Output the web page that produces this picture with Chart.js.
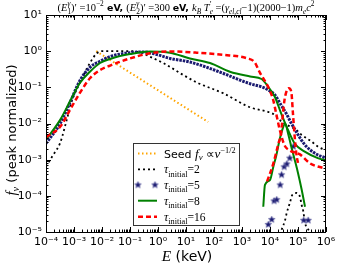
<!DOCTYPE html>
<html>
<head>
<meta charset="utf-8">
<script src="https://cdn.jsdelivr.net/npm/chart.js"></script>
<style>
  html, body { margin: 0; padding: 0; background: #fff; }
</style>
</head>
<body>
<canvas id="myChart" width="340" height="267"></canvas>
<script>
// values (E in keV, f_nu peak normalized)
const xTicks = [1e-4, 1e-3, 1e-2, 1e-1, 1, 10, 100, 1e3, 1e4, 1e5, 1e6];
const yTicks = [1e-5, 1e-4, 1e-3, 1e-2, 1e-1, 1, 10];

const seedE = [6.2e-3, 62];
const seedF = [1.0, 0.011];

const tau2E = [1e-4, 1.8e-4, 3.2e-4, 5.5e-4, 8.3e-4, 1.6e-3, 3.7e-3, 6.5e-3, 1e-2, 3.2e-2, 0.1, 0.25, 0.5, 1.55, 7.9, 25, 210, 1950, 8500, 1.48e4, 2.6e4, 8.7e4, 1.32e5, 3.0e5, 5.1e5, 1e6];
const tau2F = [6.5e-4, 1.35e-3, 2.9e-3, 1.26e-2, 4.1e-2, 0.13, 0.47, 0.87, 1.0, 1.0, 1.0, 0.91, 0.71, 0.47, 0.22, 0.135, 0.069, 0.028, 0.021, 0.0174, 0.0112, 0.0066, 0.0049, 0.0032, 0.0023, 0.0018];
const tau2HiE = [2.6e4, 3.5e4, 4.0e4, 5.1e4, 6.3e4, 8.9e4, 1.17e5, 1.35e5, 1.55e5, 1.78e5, 2.5e5, 3.1e5];
const tau2HiF = [1.15e-5, 2.2e-5, 3.5e-5, 6.3e-5, 1.07e-4, 1.2e-4, 9.5e-5, 5.6e-5, 3.7e-5, 1.8e-5, 1.1e-5, 1.0e-5];

const tau5E = [1e-4, 3.2e-4, 7.2e-4, 1.6e-3, 3.7e-3, 8.5e-3, 1.95e-2, 4.4e-2, 0.1, 0.32, 1, 2.7, 13.8, 210, 850, 1950, 5600, 8500, 1.48e4, 2.5e4, 3.8e4, 5.75e4, 1e5, 1.74e5, 4e5, 1e6];
const tau5F = [2.8e-3, 1e-2, 3.8e-2, 0.15, 0.355, 0.525, 0.71, 0.83, 0.91, 0.955, 0.79, 0.63, 0.5, 0.245, 0.158, 0.126, 0.1, 0.085, 0.062, 0.032, 0.019, 0.0102, 0.0049, 0.0026, 0.0015, 0.0011];
const tau5HiE = [8.7e3, 1.15e4, 1.4e4, 1.74e4, 2.3e4, 2.6e4, 3.2e4, 4.0e4, 5.1e4, 6.8e4, 1.6e5, 2.3e5];
const tau5HiF = [1.6e-5, 2.2e-5, 7.2e-5, 7.8e-5, 2.0e-4, 3.8e-4, 6.3e-4, 7.6e-4, 1.1e-3, 2.3e-3, 2.1e-5, 2.1e-5];

const tau8E = [1e-4, 3.2e-4, 7.2e-4, 1.6e-3, 3.7e-3, 8.5e-3, 2.2e-2, 0.1, 0.51, 2.7, 13.8, 72, 370, 1950, 5000, 8500, 1.48e4, 2.5e4, 4.4e4, 7.6e4, 1.74e5, 5.1e5, 1e6];
const tau8F = [3.55e-3, 1.26e-2, 4.1e-2, 0.13, 0.27, 0.47, 0.63, 0.83, 0.98, 0.91, 0.63, 0.47, 0.27, 0.2, 0.17, 0.105, 0.055, 0.019, 0.0066, 0.0028, 0.00166, 0.0011, 9.5e-4];
const tau8HiE = [5750, 6600, 1e4, 1.32e4, 1.66e4, 2.2e4, 2.9e4, 3.5e4, 4.4e4, 5.75e4, 7.6e4, 1e5, 1.35e5, 1.78e5];
const tau8HiF = [5e-5, 2e-4, 2.75e-4, 6.5e-4, 1.26e-3, 3.55e-3, 7.6e-3, 1e-2, 5.4e-3, 2.3e-3, 1e-3, 4.3e-4, 1.5e-4, 5e-5];

const tau16E = [1e-4, 3.2e-4, 7.2e-4, 1.6e-3, 3.7e-3, 8.5e-3, 1.95e-2, 0.1, 0.51, 2.7, 24, 210, 1580, 2800, 4400, 6300, 8500, 1.3e4, 1.66e4, 2.24e4, 3.3e4, 5.0e4, 1.17e5, 2.7e5, 1e6];
const tau16F = [4.2e-3, 8.1e-3, 2.4e-2, 6.9e-2, 0.178, 0.30, 0.40, 0.63, 0.87, 0.98, 0.91, 0.79, 0.63, 0.5, 0.25, 0.158, 0.105, 0.045, 0.019, 0.0066, 0.0025, 0.0018, 0.0014, 7.9e-4, 5.6e-4];
const tau16HiE = [7.9e3, 1.32e4, 2.0e4, 2.5e4, 2.9e4, 3.3e4, 4.0e4, 4.7e4, 5.75e4, 6.6e4, 7.6e4, 8.7e4, 1e5];
const tau16HiF = [2.5e-4, 7.9e-4, 2.8e-3, 5.4e-3, 1.9e-2, 4.5e-2, 8.3e-2, 9.5e-2, 7.6e-2, 1.9e-2, 4.4e-3, 1.5e-3, 7.9e-4];

const pts = (E, F) => E.map((e, i) => ({ x: e, y: F[i] }));

// filled 5-point star like matplotlib '*'
function makeStar(r) {
  const c = document.createElement('canvas');
  c.width = c.height = 2 * r + 2;
  const g = c.getContext('2d');
  g.beginPath();
  for (let i = 0; i < 10; i++) {
    const rad = i % 2 ? r * 0.45 : r;
    const a = -Math.PI / 2 + i * Math.PI / 5;
    g.lineTo(r + 1 + rad * Math.cos(a), r + 1 + rad * Math.sin(a));
  }
  g.closePath();
  g.fillStyle = '#1a1a70';
  g.fill();
  g.strokeStyle = '#5a5aa0';
  g.lineWidth = 0.6;
  g.stroke();
  return c;
}
const star = makeStar(3.5);

const SUP = { '-': '⁻', '0': '⁰', '1': '¹', '2': '²', '3': '³', '4': '⁴', '5': '⁵', '6': '⁶' };
const powLabel = v => {
  const e = Math.round(Math.log10(v));
  return '10' + String(e).split('').map(ch => SUP[ch]).join('');
};

function fontFor(p, sz) {
  const sans = p.s === 's' || p.s === 'b';
  const st = p.s === 'i' ? 'italic ' : p.s === 'b' ? 'bold ' : '';
  return st + sz + 'px ' + (sans ? '"DejaVu Sans"' : '"Liberation Serif"');
}

// draws text runs with sub/superscripts; "hold" keeps x for stacked scripts
function drawRich(ctx, parts, x, y, base, align) {
  const items = parts.map(p => {
    const sz = base * (p.r || 1);
    ctx.font = fontFor(p, sz);
    return { p, sz, tw: ctx.measureText(p.t).width };
  });
  let w = 0, pend = 0;
  for (const it of items) {
    if (it.p.hold) { pend = it.tw; continue; }
    w += Math.max(pend, it.tw); pend = 0;
  }
  let cx = align === 'center' ? x - w / 2 : x;
  pend = 0;
  for (const it of items) {
    ctx.font = fontFor(it.p, it.sz);
    ctx.fillText(it.p.t, cx, y + (it.p.dy || 0) * base);
    if (it.p.hold) { pend = it.tw; continue; }
    cx += Math.max(pend, it.tw); pend = 0;
  }
  return w;
}

const titleParts = [
  { t: '(', s: 'r' }, { t: 'E', s: 'i' },
  { t: 'γ', s: 'i', r: 0.7, dy: -0.4, hold: true }, { t: '1', s: 'r', r: 0.7, dy: 0.3 },
  { t: ')′ =10', s: 'r' }, { t: '−2', s: 'r', r: 0.7, dy: -0.4 },
  { t: ' eV, ', s: 'b', r: 0.9 },
  { t: '(', s: 'r' }, { t: 'E', s: 'i' },
  { t: 'γ', s: 'i', r: 0.7, dy: -0.4, hold: true }, { t: '2', s: 'r', r: 0.7, dy: 0.3 },
  { t: ')′ =300 ', s: 'r' }, { t: 'eV, ', s: 'b', r: 0.9 },
  { t: 'k', s: 'i' }, { t: 'B', s: 'i', r: 0.7, dy: 0.3 }, { t: ' T', s: 'i' },
  { t: '′', s: 'r', r: 0.8, dy: -0.35, hold: true }, { t: 'e', s: 'i', r: 0.7, dy: 0.3 },
  { t: ' =(', s: 'r' }, { t: 'γ', s: 'i' }, { t: 'el,cl', s: 'i', r: 0.7, dy: 0.3 },
  { t: '−1)(2000−1)', s: 'r' }, { t: 'm', s: 'i' }, { t: 'e', s: 'i', r: 0.7, dy: 0.3 },
  { t: 'c', s: 'i' }, { t: '2', s: 'r', r: 0.7, dy: -0.4 }
];

const legendRows = [
  { kind: 'seed', parts: [{ t: 'Seed ', s: 's' }, { t: 'f', s: 'i', r: 1.2 }, { t: 'ν', s: 'i', r: 0.8, dy: 0.25 }, { t: ' ∝', s: 'r', r: 1.1 }, { t: 'ν', s: 'i', r: 1.2 }, { t: '−1/2', s: 'r', r: 0.75, dy: -0.4 }] },
  { kind: 'tau2', parts: [{ t: 'τ', s: 'i', r: 1.1 }, { t: 'initial', s: 'r', r: 0.75, dy: 0.3 }, { t: '=2', s: 'r', r: 1.05 }] },
  { kind: 'tau5', parts: [{ t: 'τ', s: 'i', r: 1.1 }, { t: 'initial', s: 'r', r: 0.75, dy: 0.3 }, { t: '=5', s: 'r', r: 1.05 }] },
  { kind: 'tau8', parts: [{ t: 'τ', s: 'i', r: 1.1 }, { t: 'initial', s: 'r', r: 0.75, dy: 0.3 }, { t: '=8', s: 'r', r: 1.05 }] },
  { kind: 'tau16', parts: [{ t: 'τ', s: 'i', r: 1.1 }, { t: 'initial', s: 'r', r: 0.75, dy: 0.3 }, { t: '=16', s: 'r', r: 1.05 }] }
];

const decor = {
  id: 'decor',
  afterDraw(chart) {
    const ctx = chart.ctx;
    const a = chart.chartArea;
    const xs = chart.scales.x, ys = chart.scales.y;
    ctx.save();
    ctx.strokeStyle = '#000';
    ctx.lineWidth = 1;
    ctx.beginPath();
    // inward ticks on all four sides
    for (let d = -4; d <= 6; d++) {
      for (let m = 1; m <= 9; m++) {
        if (d === 6 && m > 1) break;
        const px = Math.round(xs.getPixelForValue(m * Math.pow(10, d))) + 0.5;
        const len = m === 1 ? 5 : 2.5;
        ctx.moveTo(px, a.bottom); ctx.lineTo(px, a.bottom - len);
        ctx.moveTo(px, a.top); ctx.lineTo(px, a.top + len);
      }
    }
    for (let d = -5; d <= 1; d++) {
      for (let m = 1; m <= 9; m++) {
        if (d === 1 && m > 1) break;
        const py = Math.round(ys.getPixelForValue(m * Math.pow(10, d))) + 0.5;
        const len = m === 1 ? 5 : 2.5;
        ctx.moveTo(a.left, py); ctx.lineTo(a.left + len, py);
        ctx.moveTo(a.right, py); ctx.lineTo(a.right - len, py);
      }
    }
    ctx.stroke();
    ctx.strokeRect(Math.round(a.left) + 0.5, Math.round(a.top) + 0.5, Math.round(a.right - a.left) - 1, Math.round(a.bottom - a.top));

    // legend
    const lx = 133.5, ly = 143.5, lw = 106, lh = 82;
    ctx.fillStyle = '#fff';
    ctx.fillRect(lx, ly, lw, lh);
    ctx.strokeStyle = '#333';
    ctx.strokeRect(lx, ly, lw, lh);
    const rowY = [153.5, 169.3, 185, 200.7, 216.7];
    legendRows.forEach((row, i) => {
      const y = rowY[i];
      ctx.save();
      ctx.beginPath();
      if (row.kind === 'seed') {
        ctx.strokeStyle = '#ffa500'; ctx.lineWidth = 2; ctx.setLineDash([1.5, 2.5]);
        ctx.moveTo(138, y); ctx.lineTo(157, y); ctx.stroke();
      } else if (row.kind === 'tau2') {
        ctx.strokeStyle = '#000'; ctx.lineWidth = 1.8; ctx.setLineDash([2, 3]);
        ctx.moveTo(138, y); ctx.lineTo(157, y); ctx.stroke();
      } else if (row.kind === 'tau5') {
        ctx.drawImage(star, 138 - 4.5, y - 4.5);
        ctx.drawImage(star, 155 - 4.5, y - 4.5);
      } else if (row.kind === 'tau8') {
        ctx.strokeStyle = '#008000'; ctx.lineWidth = 2;
        ctx.moveTo(138, y); ctx.lineTo(157, y); ctx.stroke();
      } else {
        ctx.strokeStyle = '#ff0000'; ctx.lineWidth = 2.5; ctx.setLineDash([5, 3]);
        ctx.moveTo(138, y); ctx.lineTo(157, y); ctx.stroke();
      }
      ctx.restore();
      ctx.fillStyle = '#000';
      ctx.textBaseline = 'alphabetic';
      drawRich(ctx, row.parts, 164, y + 4, 11, 'left');
    });

    // title
    ctx.fillStyle = '#000';
    ctx.textBaseline = 'alphabetic';
    drawRich(ctx, titleParts, 186, 10.5, 10.5, 'center');

    // axis titles
    drawRich(ctx, [{ t: 'E', s: 'i', r: 1.1 }, { t: ' (keV)', s: 's' }], 187, 261, 14, 'center');
    ctx.translate(16, 130);
    ctx.rotate(-Math.PI / 2);
    drawRich(ctx, [{ t: 'f', s: 'i', r: 1.15 }, { t: 'ν', s: 'i', r: 0.8, dy: 0.25 }, { t: ' (peak normalized)', s: 's' }], 0, 0, 13, 'center');
    ctx.restore();
  }
};

const common = { fill: false, pointRadius: 0, cubicInterpolationMode: 'monotone' };

const data = {
  datasets: [
    { ...common, data: pts(seedE, seedF), borderColor: '#ffa500', borderWidth: 2, borderDash: [1.5, 2.5], order: 9 },
    { ...common, data: pts(tau2E, tau2F), borderColor: '#000', borderWidth: 1.8, borderDash: [2, 3], order: 8 },
    { ...common, data: pts(tau2HiE, tau2HiF), borderColor: '#000', borderWidth: 1.8, borderDash: [2, 3], order: 8 },
    { ...common, data: pts(tau5E, tau5F), borderColor: '#1a1a70', borderWidth: 3, borderDash: [2.5, 1], order: 7 },
    { data: pts(tau5HiE, tau5HiF), showLine: false, pointStyle: star, pointRadius: 4, order: 7 },
    { ...common, data: pts(tau8E, tau8F), borderColor: '#008000', borderWidth: 2, order: 6 },
    { ...common, data: pts(tau8HiE, tau8HiF), borderColor: '#008000', borderWidth: 2, order: 6 },
    { ...common, data: pts(tau16E, tau16F), borderColor: '#ff0000', borderWidth: 2.5, borderDash: [5, 3], order: 5 },
    { ...common, data: pts(tau16HiE, tau16HiF), borderColor: '#ff0000', borderWidth: 2.5, borderDash: [5, 3], order: 5 }
  ]
};

const config = {
  type: 'line',
  data,
  options: {
    responsive: false,
    animation: false,
    devicePixelRatio: 1,
    layout: { padding: { top: 15, right: 14, left: 0, bottom: 0 } },
    plugins: { legend: { display: false }, tooltip: { enabled: false } },
    scales: {
      x: {
        type: 'logarithmic', min: 1e-4, max: 1e6,
        grid: { display: false, drawTicks: false },
        border: { display: false },
        afterBuildTicks: s => { s.ticks = xTicks.map(v => ({ value: v })); },
        afterFit: s => { s.height = 35; },
        ticks: { autoSkip: false, maxRotation: 0, padding: 4, color: '#000', font: { family: 'DejaVu Sans', size: 11 }, callback: v => powLabel(v) }
      },
      y: {
        type: 'logarithmic', min: 1e-5, max: 10,
        grid: { display: false, drawTicks: false },
        border: { display: false },
        afterBuildTicks: s => { s.ticks = yTicks.map(v => ({ value: v })); },
        afterFit: s => { s.width = 46; },
        ticks: { autoSkip: false, padding: 4, color: '#000', font: { family: 'DejaVu Sans', size: 11 }, callback: v => powLabel(v) }
      }
    }
  },
  plugins: [decor]
};

const myChart = new Chart(document.getElementById('myChart'), config);
</script>
</body>
</html>
